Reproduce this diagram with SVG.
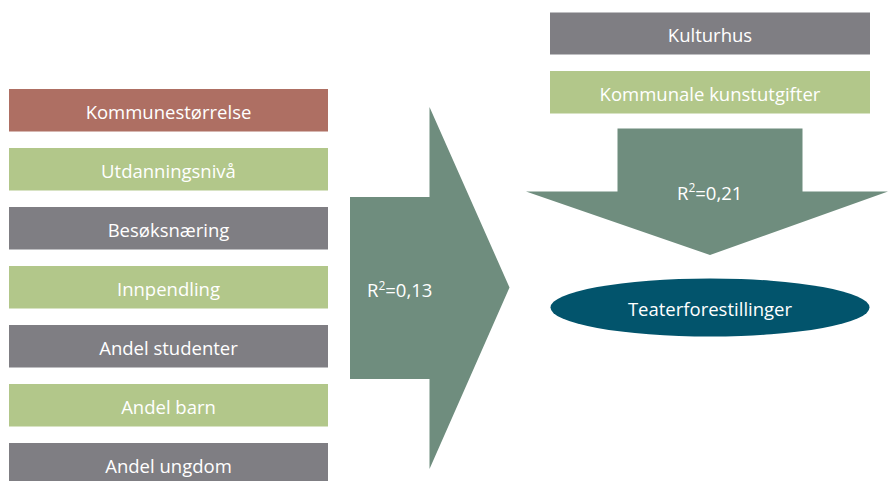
<svg xmlns="http://www.w3.org/2000/svg" width="888" height="481" viewBox="0 0 888 481">
<style>
text{font-family:"Open Sans","Liberation Sans",sans-serif;font-size:18.5px;fill:#ffffff;text-anchor:middle}
.red{fill:#AE6F63}.green{fill:#B2C78A}.gray{fill:#7F7E83}.arrow{fill:#6F8D7E}.oval{fill:#02546C}
.lbl{text-anchor:start}
</style>
<rect width="888" height="481" fill="#ffffff"/>
<g id="connectors">
<g id="arrow-right"><path class="arrow" d="M350,197 H429.5 V107 L509.5,287.5 L429.5,469 V379 H350 Z"/><text class="lbl" x="367" y="297">R<tspan dy="-7.5" font-size="12">2</tspan><tspan dy="7.5">=0,13</tspan></text></g>
<g id="arrow-down"><path class="arrow" d="M617.5,128.5 H802.5 V191.5 H888 L710,255 L526,191.5 H617.5 Z"/><text class="lbl" x="677" y="199.5">R<tspan dy="-7.5" font-size="12">2</tspan><tspan dy="7.5">=0,21</tspan></text></g>
</g>
<g id="n1"><rect class="red" x="9" y="89" width="319" height="42.5"/><text x="168.5" y="119">Kommunestørrelse</text></g>
<g id="n2"><rect class="green" x="9" y="148" width="319" height="42.5"/><text x="168.5" y="178">Utdanningsnivå</text></g>
<g id="n3"><rect class="gray" x="9" y="207" width="319" height="42.5"/><text x="168.5" y="237">Besøksnæring</text></g>
<g id="n4"><rect class="green" x="9" y="266" width="319" height="42.5"/><text x="168.5" y="296">Innpendling</text></g>
<g id="n5"><rect class="gray" x="9" y="325" width="319" height="42.5"/><text x="168.5" y="355">Andel studenter</text></g>
<g id="n6"><rect class="green" x="9" y="384" width="319" height="42.5"/><text x="168.5" y="414">Andel barn</text></g>
<g id="n7"><rect class="gray" x="9" y="443" width="319" height="42.5"/><text x="168.5" y="473">Andel ungdom</text></g>
<g id="n8"><rect class="gray" x="550" y="12.5" width="320" height="42"/><text x="710" y="42">Kulturhus</text></g>
<g id="n9"><rect class="green" x="550" y="71" width="320" height="42.5"/><text x="710" y="100.5">Kommunale kunstutgifter</text></g>
<g id="n10"><ellipse class="oval" cx="710" cy="307.5" rx="159.5" ry="29"/><text x="710" y="316" font-size="19.5">Teaterforestillinger</text></g>
</svg>
